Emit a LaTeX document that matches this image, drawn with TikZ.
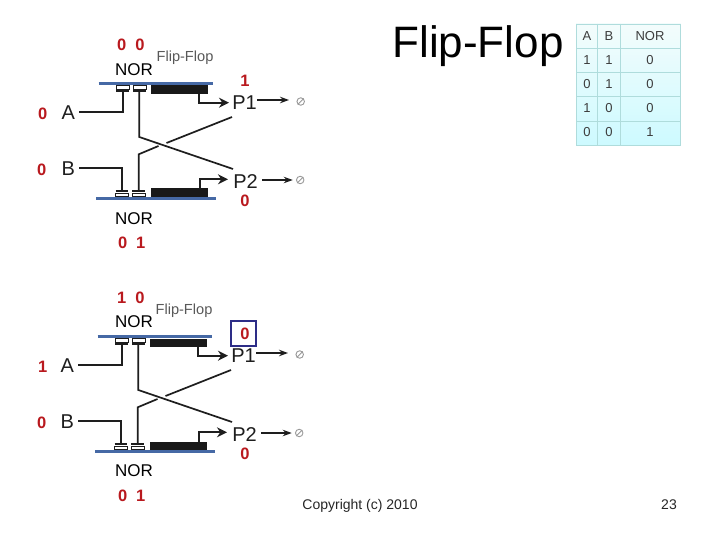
\documentclass[tikz,border=0pt]{standalone}
\usepackage{fontspec}
\setmainfont{Liberation Sans}
\usetikzlibrary{arrows.meta,calc}
\definecolor{redlab}{RGB}{185,25,30}
\definecolor{barblue}{RGB}{70,105,165}
\definecolor{wirecol}{RGB}{30,30,30}
\definecolor{boxnavy}{RGB}{45,45,135}
\definecolor{tabline}{RGB}{175,220,220}
\definecolor{tabtop}{RGB}{243,252,252}
\definecolor{tabbot}{RGB}{205,250,255}
\definecolor{tabtext}{RGB}{60,60,60}
\tikzset{
  redlab/.style={anchor=base,yshift=-5.9pt,inner sep=0pt,text=redlab,font=\fontsize{16.5}{16}\bfseries\selectfont},
  norlab/.style={anchor=base,yshift=-6.1pt,inner sep=0pt,text=black,font=\fontsize{17}{17}\selectfont},
  fflab/.style={anchor=base,yshift=-5.2pt,inner sep=0pt,text=black!65,font=\fontsize{14.6}{15}\selectfont},
  pinlab/.style={anchor=base,yshift=-7.2pt,inner sep=0pt,text=wirecol,font=\fontsize{20}{20}\selectfont},
  tabcell/.style={anchor=base,yshift=-4.6pt,inner sep=0pt,text=tabtext,font=\fontsize{13}{13}\selectfont},
  foot/.style={anchor=base,yshift=-5pt,inner sep=0pt,text=black!85,font=\fontsize{14}{14}\selectfont},
  wire/.style={draw=wirecol,line width=1.7pt},
  outwire/.style={draw=wirecol,line width=2.3pt,-{Stealth[length=10pt,width=10pt]}},
  pinwire/.style={draw=wirecol,line width=1.2pt,-{Stealth[length=9pt,width=6.5pt]}},
  bar/.style={draw=barblue,line width=2.8pt},
  gatebox/.style={draw=wirecol,line width=.8pt,fill=white},
  block/.style={fill=black!90!white},
  nullsym/.style={circle,draw=black!40,line width=.9pt,minimum size=7.5pt,inner sep=0pt},
}
\newcommand{\flipcell}[1]{%
\begin{scope}[shift={#1}]
  \node[pinlab] (A) at (68.3,112.3) {A};
  \node[pinlab] (B) at (68.3,168.3) {B};
  \node[pinlab] (P1) at (244.5,102.7) {P1};
  \node[pinlab] (P2) at (245.5,181) {P2};
  \node[nullsym] (N1) at (300.7,101.5) {};
  \node[nullsym] (N2) at (300.2,180) {};
  \draw[black!40,line width=.8pt] (N1.south west) -- (N1.north east);
  \draw[black!40,line width=.8pt] (N2.south west) -- (N2.north east);
  % bars
  \draw[bar] (98.7,83.3) -- (213,83.3);
  \draw[bar] (96.3,198.3) -- (216,198.3);
  % top gates
  \draw[gatebox] (116,85.3) rectangle (129,89.3);
  \draw[gatebox] (133,85.3) rectangle (146,89.3);
  \coordinate (ga) at (122.7,90.7);
  \coordinate (gb) at (139.3,90.7);
  \draw[wire] (116,90.7) -- (129,90.7);
  \draw[wire] (133,90.7) -- (146,90.7);
  \fill[block] (150.7,85.5) rectangle (207.7,94);
  % bottom gates
  \draw[gatebox] (115.7,193) rectangle (128.3,196.7);
  \draw[gatebox] (132.3,193) rectangle (145,196.7);
  \coordinate (gc) at (122.2,191.3);
  \coordinate (gd) at (138.7,191.3);
  \draw[wire] (115.7,191.3) -- (128.3,191.3);
  \draw[wire] (132.3,191.3) -- (145,191.3);
  \fill[block] (151,188.5) rectangle (207.7,197);
  % wires
  \draw[wire] (79.3,112.3) -- (122.7,112.3) -- (ga);
  \draw[wire] (79.3,168.3) -- (122.2,168.3) -- (gc);
  \draw[wire] (gb) -- (139.3,137) -- (233,169);
  \draw[wire] (gd) -- (138.7,154.3) -- (158.5,146);
  \draw[wire] (166.5,143) -- (232,117);
  \draw[outwire] (199.3,93.7) -- (199.3,102.7) -- (229,102.7);
  \draw[outwire] (200,189) -- (200,179.3) -- (228,179.3);
  \draw[pinwire] (257.3,100) -- (289,100);
  \draw[pinwire] (262.3,180) -- (292.7,180);
\end{scope}}
\begin{document}
\begin{tikzpicture}[x=1pt,y=-1pt]
\useasboundingbox (0,0) rectangle (720,540);
\fill[white] (0,0) rectangle (720,540);
% title
\node[anchor=base,inner sep=0pt,yshift=-15.7pt,text=black,font=\fontsize{44}{44}\selectfont] (title) at (478,42) {Flip-Flop};
% table
\shade[top color=tabtop,bottom color=tabbot] (576,24) rectangle (680.7,145);
\foreach \yy in {24,48.3,72.5,96.8,121,145}{\draw[tabline,line width=.9pt] (576,\yy) -- (680.7,\yy);}
\foreach \xx in {576,597.7,620,680.7}{\draw[tabline,line width=.9pt] (\xx,24) -- (\xx,145);}
\node[tabcell] (h1) at (587,36) {A};
\node[tabcell] (h2) at (609,36) {B};
\node[tabcell] (h3) at (650,36) {NOR};
\node[tabcell] (r1a) at (587,60) {1};
\node[tabcell] (r1b) at (609,60) {1};
\node[tabcell] (r1c) at (650,60) {0};
\node[tabcell] (r2a) at (587,84) {0};
\node[tabcell] (r2b) at (609,84) {1};
\node[tabcell] (r2c) at (650,84) {0};
\node[tabcell] (r3a) at (587,108) {1};
\node[tabcell] (r3b) at (609,108) {0};
\node[tabcell] (r3c) at (650,108) {0};
\node[tabcell] (r4a) at (587,132) {0};
\node[tabcell] (r4b) at (609,132) {0};
\node[tabcell] (r4c) at (650,132) {1};
% circuits
\flipcell{(0,0)}
\flipcell{(-1,253)}
% top labels
\node[redlab] (t1) at (121.7,45) {0};
\node[redlab] (t2) at (140,45) {0};
\node[norlab] (tn) at (134,69) {NOR};
\node[fflab] (tf) at (185,56) {Flip-Flop};
\node[redlab] (ta) at (42.7,114) {0};
\node[redlab] (tb) at (41.7,170) {0};
\node[redlab] (tp) at (245,81) {1};
\node[redlab] (tq) at (245,201) {0};
\node[norlab] (tm) at (134,218.3) {NOR};
\node[redlab] (t3) at (122.7,242.7) {0};
\node[redlab] (t4) at (140.7,242.7) {1};
% bottom labels
\node[redlab] (b1) at (121.7,297.7) {1};
\node[redlab] (b2) at (140,297.7) {0};
\node[norlab] (bn) at (134,321.7) {NOR};
\node[fflab] (bf) at (184,309) {Flip-Flop};
\node[redlab] (ba) at (42.7,366.7) {1};
\node[redlab] (bb) at (41.7,422.7) {0};
\node[redlab] (bp) at (245,333.3) {0};
\draw[boxnavy,line width=2.4pt] (230.7,320.7) rectangle (256,346);
\node[redlab] (bq) at (245,454) {0};
\node[norlab] (bm) at (134,470.7) {NOR};
\node[redlab] (b3) at (122.7,495.7) {0};
\node[redlab] (b4) at (140.7,495.7) {1};
% footer
\node[foot] (copy) at (360,504) {Copyright (c) 2010};
\node[foot] (page) at (669,504) {23};
\end{tikzpicture}
\end{document}
